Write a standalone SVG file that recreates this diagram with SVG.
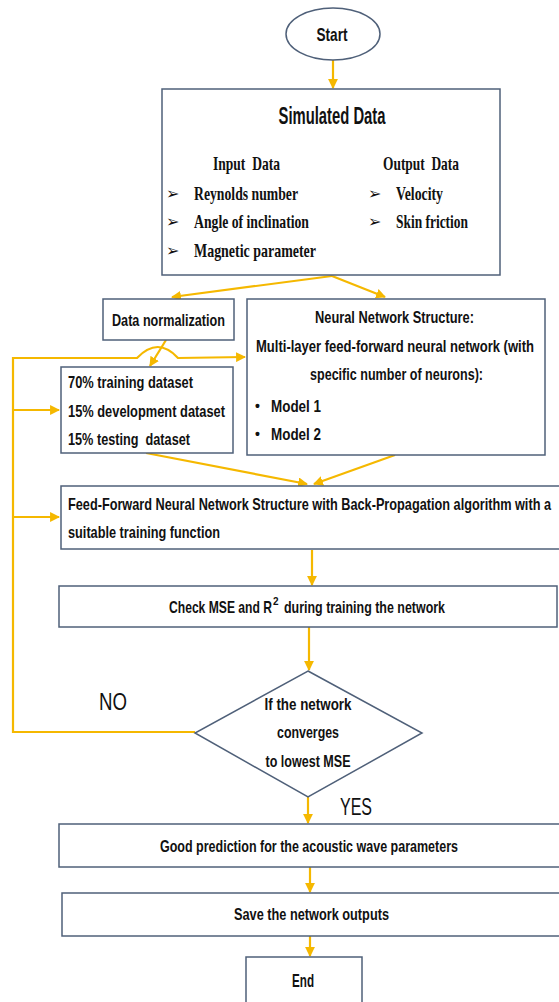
<svg xmlns="http://www.w3.org/2000/svg" width="559" height="1002" viewBox="0 0 559 1002">
<style>
.box{fill:#fff;stroke:#4f6079;stroke-width:1.5}
.ln{fill:none;stroke:#f5b800;stroke-width:2.2}
.t{font-family:"Liberation Sans",Arial,sans-serif;font-weight:bold;font-size:17px;fill:#111}
.c{text-anchor:middle}
.s{font-family:"Liberation Serif","Times New Roman",serif;font-weight:bold;font-size:19px;fill:#111}
.b{font-family:"DejaVu Sans",sans-serif;font-size:16px;fill:#111}
.yn{font-family:"Liberation Sans",Arial,sans-serif;font-size:24px;fill:#111}
</style>
<defs>
<marker id="ah" viewBox="0 0 10 10" refX="9" refY="5" markerWidth="4.5" markerHeight="4.5" orient="auto" markerUnits="strokeWidth">
<path d="M0,0 L10,5 L0,10 z" fill="#f5b800"/>
</marker>
</defs>
<rect width="559" height="1002" fill="#fff"/>

<g id="connectors">
<path class="ln" d="M333,60 L333,88" marker-end="url(#ah)"/>
<path class="ln" d="M332,276 L172,297" marker-end="url(#ah)"/>
<path class="ln" d="M332,276 L385,297" marker-end="url(#ah)"/>
<path class="ln" d="M166,340 L150,366" marker-end="url(#ah)"/>
<path class="ln" d="M13,733 L13,358 L137,358 Q158,336 178,358 L245,357" marker-end="url(#ah)"/>
<path class="ln" d="M13,410 L59,410" marker-end="url(#ah)"/>
<path class="ln" d="M13,517 L59,517" marker-end="url(#ah)"/>
<path class="ln" d="M195,732 L13,732"/>
<path class="ln" d="M146,453 L307,484" marker-end="url(#ah)"/>
<path class="ln" d="M395,455 L314,484" marker-end="url(#ah)"/>
<path class="ln" d="M312,550 L312,585" marker-end="url(#ah)"/>
<path class="ln" d="M309,627 L309,670" marker-end="url(#ah)"/>
<path class="ln" d="M308,797 L308,823" marker-end="url(#ah)"/>
<path class="ln" d="M310,867 L310,892" marker-end="url(#ah)"/>
<path class="ln" d="M310,936 L310,956" marker-end="url(#ah)"/>
</g>

<g id="start">
<ellipse class="box" cx="333" cy="34" rx="47" ry="26"/>
<text class="t c" x="332" y="41" style="font-size:19px" textLength="31" lengthAdjust="spacingAndGlyphs">Start</text>
</g>

<g id="simulated">
<rect class="box" x="162" y="89" width="338" height="186"/>
<text class="t c" x="332" y="124" style="font-size:23px" textLength="107" lengthAdjust="spacingAndGlyphs">Simulated Data</text>
<text class="s" x="213" y="170" textLength="67" lengthAdjust="spacingAndGlyphs">Input&#160; Data</text>
<text class="s" x="383" y="170" textLength="76" lengthAdjust="spacingAndGlyphs">Output&#160; Data</text>
<text class="b" x="166" y="199">➢</text>
<text class="b" x="166" y="227">➢</text>
<text class="b" x="166" y="256">➢</text>
<text class="s" x="194" y="200" textLength="104" lengthAdjust="spacingAndGlyphs">Reynolds number</text>
<text class="s" x="194" y="228" textLength="115" lengthAdjust="spacingAndGlyphs">Angle of inclination</text>
<text class="s" x="194" y="257" textLength="122" lengthAdjust="spacingAndGlyphs">Magnetic parameter</text>
<text class="b" x="368" y="199">➢</text>
<text class="b" x="368" y="227">➢</text>
<text class="s" x="396" y="200" textLength="47" lengthAdjust="spacingAndGlyphs">Velocity</text>
<text class="s" x="396" y="228" textLength="72" lengthAdjust="spacingAndGlyphs">Skin friction</text>
</g>

<g id="normalization">
<rect class="box" x="103" y="299" width="131" height="41"/>
<text class="t" x="112" y="326" textLength="113" lengthAdjust="spacingAndGlyphs">Data normalization</text>
</g>

<g id="nn-structure">
<rect class="box" x="247" y="299" width="298" height="156"/>
<text class="t" x="315" y="323" textLength="159" lengthAdjust="spacingAndGlyphs">Neural Network Structure:</text>
<text class="t" x="256" y="352" textLength="278" lengthAdjust="spacingAndGlyphs">Multi-layer feed-forward neural network (with</text>
<text class="t" x="310" y="380" textLength="173" lengthAdjust="spacingAndGlyphs">specific number of neurons):</text>
<text class="t" x="255" y="411" style="font-size:14px">•</text>
<text class="t" x="255" y="439" style="font-size:14px">•</text>
<text class="t" x="271" y="412" textLength="50" lengthAdjust="spacingAndGlyphs">Model 1</text>
<text class="t" x="271" y="440" textLength="50" lengthAdjust="spacingAndGlyphs">Model 2</text>
</g>

<g id="datasets">
<rect class="box" x="61" y="367" width="172" height="86"/>
<text class="t" x="68" y="388" textLength="125" lengthAdjust="spacingAndGlyphs">70% training dataset</text>
<text class="t" x="68" y="417" textLength="157" lengthAdjust="spacingAndGlyphs">15% development dataset</text>
<text class="t" x="68" y="445" textLength="122" lengthAdjust="spacingAndGlyphs">15% testing&#160; dataset</text>
</g>

<g id="feedforward">
<rect class="box" x="61" y="486" width="500" height="63"/>
<text class="t" x="68" y="510" textLength="483" lengthAdjust="spacingAndGlyphs">Feed-Forward Neural Network Structure with Back-Propagation algorithm with a</text>
<text class="t" x="68" y="538" textLength="152" lengthAdjust="spacingAndGlyphs">suitable training function</text>
</g>

<g id="check">
<rect class="box" x="59" y="586" width="498" height="41"/>
<text class="t" x="169" y="613" textLength="103" lengthAdjust="spacingAndGlyphs">Check MSE and R</text>
<text class="t" x="273" y="605" style="font-size:10px">2</text>
<text class="t" x="284" y="613" textLength="161" lengthAdjust="spacingAndGlyphs">during training the network</text>
</g>

<g id="decision">
<polygon class="box" points="308,671 422,733 308,797 195,733"/>
<text class="t c" x="308" y="710" textLength="87" lengthAdjust="spacingAndGlyphs">If the network</text>
<text class="t c" x="308" y="738" textLength="62" lengthAdjust="spacingAndGlyphs">converges</text>
<text class="t c" x="308" y="767" textLength="85" lengthAdjust="spacingAndGlyphs">to lowest MSE</text>
</g>

<text class="yn" x="99" y="710" textLength="28" lengthAdjust="spacingAndGlyphs">NO</text>
<text class="yn" x="340" y="815" textLength="32" lengthAdjust="spacingAndGlyphs">YES</text>

<g id="prediction">
<rect class="box" x="59" y="824" width="502" height="43"/>
<text class="t" x="160" y="852" textLength="298" lengthAdjust="spacingAndGlyphs">Good prediction for the acoustic wave parameters</text>
</g>

<g id="save">
<rect class="box" x="62" y="893" width="499" height="43"/>
<text class="t" x="234" y="920" textLength="155" lengthAdjust="spacingAndGlyphs">Save the network outputs</text>
</g>

<g id="end">
<rect class="box" x="246" y="957" width="116" height="50"/>
<text class="t" x="292" y="987" style="font-size:19px" textLength="22" lengthAdjust="spacingAndGlyphs">End</text>
</g>
</svg>
